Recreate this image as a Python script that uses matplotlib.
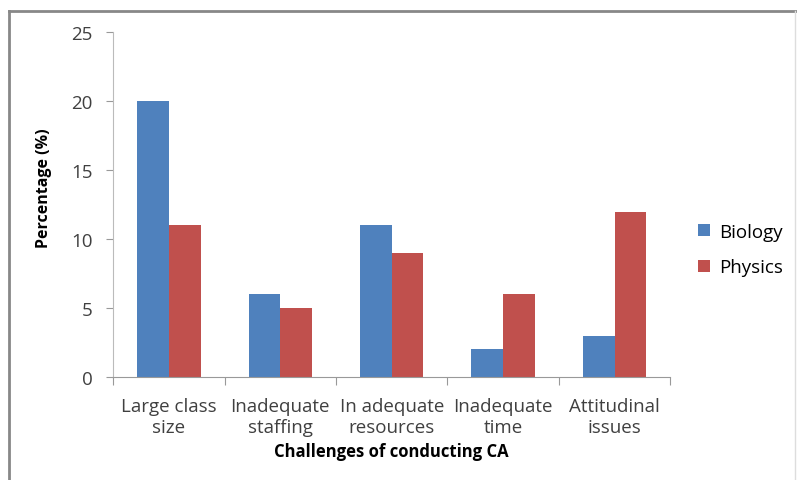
import matplotlib.pyplot as plt
import numpy as np
from matplotlib.lines import Line2D

plt.rcParams['font.family'] = ['Open Sans', 'DejaVu Sans']

categories = ['Large class\nsize', 'Inadequate\nstaffing', 'In adequate\nresources',
              'Inadequate\ntime', 'Attitudinal\nissues']
biology = [20, 6, 11, 2, 3]
physics = [11, 5, 9, 6, 12]

fig = plt.figure(figsize=(7.97, 4.81), dpi=100)
ax = fig.add_axes([0.142, 0.214, 0.699, 0.717])

x = np.arange(len(categories))
w = 0.285
ax.bar(x - w / 2, biology, w, color='#4F81BD', label='Biology')
ax.bar(x + w / 2, physics, w, color='#C0504D', label='Physics')

ax.set_xlim(-0.5, len(categories) - 0.5)
ax.set_ylim(0, 25)
ax.set_yticks(range(0, 26, 5))
ax.set_xticks(np.arange(len(categories) + 1) - 0.5)
ax.set_xticklabels([])
ax.set_xticks(x, minor=True)
ax.set_xticklabels(categories, minor=True, fontsize=13.5, color='#404040', linespacing=1.25)
ax.tick_params(axis='x', which='minor', length=0, pad=14)
ax.tick_params(axis='x', which='major', length=6, color='#999999', direction='out')
ax.tick_params(axis='y', length=5, color='#999999', labelsize=13.5, labelcolor='#404040', pad=10)

for s in ['top', 'right']:
    ax.spines[s].set_visible(False)
ax.spines['left'].set_color('#bbbbbb')
ax.spines['bottom'].set_color('#999999')

ax.set_ylabel('Percentage (%)', fontsize=11.5, fontweight='bold')
ax.yaxis.set_label_coords(-0.11, 0.55)
ax.set_xlabel('Challenges of conducting CA', fontsize=12, fontweight='bold', labelpad=4)

ax.legend(loc='center left', bbox_to_anchor=(1.02, 0.37), frameon=False, fontsize=13.5,
          handlelength=0.6, handleheight=0.6, labelspacing=0.95, handletextpad=0.5)

# outer chart border
fig.add_artist(Line2D([0.011, 0.011], [0, 0.975], color='#888888', lw=2, transform=fig.transFigure))
fig.add_artist(Line2D([0.011, 0.999], [0.975, 0.975], color='#888888', lw=2, transform=fig.transFigure))
fig.add_artist(Line2D([0.998, 0.998], [0, 0.975], color='#dddddd', lw=1, transform=fig.transFigure))

fig.savefig('out.png', dpi=100)
